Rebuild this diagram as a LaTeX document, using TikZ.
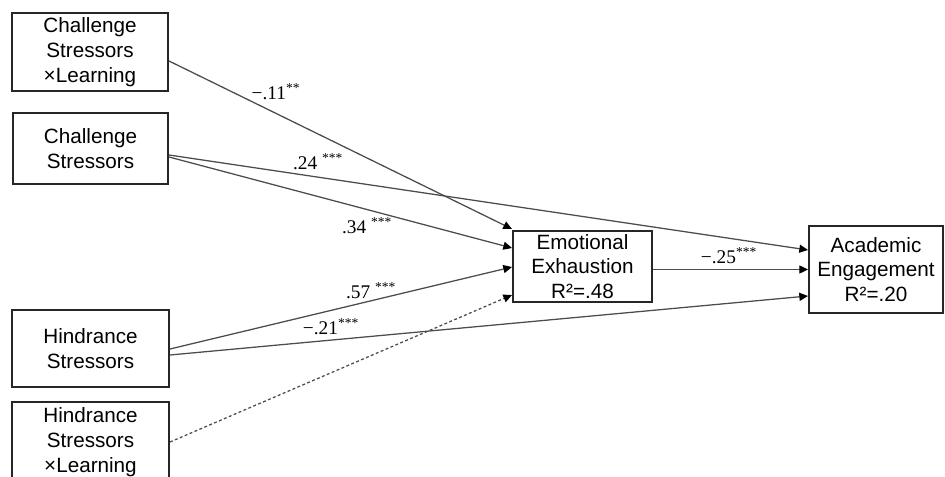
\documentclass[tikz,border=0pt]{standalone}
\usepackage{fontspec}
\setmainfont{Liberation Serif}
\newfontfamily\boxfont{Liberation Sans}
\usetikzlibrary{arrows.meta,calc}

\begin{document}
\begin{tikzpicture}[x=0.75pt,y=-0.75pt,
  varbox/.style={draw=black!85, line width=1.5pt, align=center, inner sep=0pt,
    font=\boxfont\fontsize{15.5}{18.5}\selectfont},
  link/.style={draw=black!70, line width=0.95pt,
    -{Triangle[length=6.5pt,width=6pt,color=black]}},
  coef/.style={inner sep=0pt, font=\fontsize{14.5}{17}\selectfont}]
\useasboundingbox (0,0) rectangle (945,477);
% predictors
\node[varbox, minimum width=117pt, minimum height=58.5pt] (cxl) at (90,52) {Challenge\\Stressors\\×Learning};
\node[varbox, minimum width=116.25pt, minimum height=53.25pt] (cs) at (90.5,148.5) {Challenge\\Stressors};
\node[varbox, minimum width=117.75pt, minimum height=57.75pt] (hs) at (90.5,348.5) {Hindrance\\Stressors};
\node[varbox, minimum width=117.75pt, minimum height=60pt] (hxl) at (90.5,442) {Hindrance\\Stressors\\×Learning};
% mediator and outcome
\node[varbox, minimum width=104.25pt, minimum height=53.25pt] (ee) at (582.5,266.5) {Emotional\\Exhaustion\\R²=.48};
\node[varbox, minimum width=100.5pt, minimum height=65.25pt] (ae) at (876,269.5) {Academic\\Engagement\\R²=.20};
% paths
\draw[link] ($(cxl.east)+(0,9)$) -- ($(ee.west)+(0,-37.5)$);
\draw[link] ($(cs.east)+(0,6.5)$) -- ($(ae.west)+(0,-19.5)$);
\draw[link] ($(cs.east)+(0,8.5)$) -- ($(ee.west)+(0,-18.5)$);
\draw[link] ($(hs.east)+(0,0.5)$) -- ($(ee.west)+(0,0.5)$);
\draw[link] ($(hs.east)+(0,6.5)$) -- ($(ae.west)+(0,26.5)$);
\draw[link, dash pattern=on 2.2pt off 1.8pt] (hxl.east) -- ($(ee.west)+(0,28.5)$);
\draw[link] (ee.east |- ae.west) -- (ae.west);
% coefficients
\node[coef] (c11) at (276,92) {−.11\textsuperscript{**}};
\node[coef] (c24) at (318,162) {.24 \textsuperscript{***}};
\node[coef] (c34) at (367,226) {.34 \textsuperscript{***}};
\node[coef] (c57) at (371,291) {.57 \textsuperscript{***}};
\node[coef] (c21) at (331,327) {−.21\textsuperscript{***}};
\node[coef] (c25) at (729,256) {−.25\textsuperscript{***}};
\end{tikzpicture}
\end{document}
